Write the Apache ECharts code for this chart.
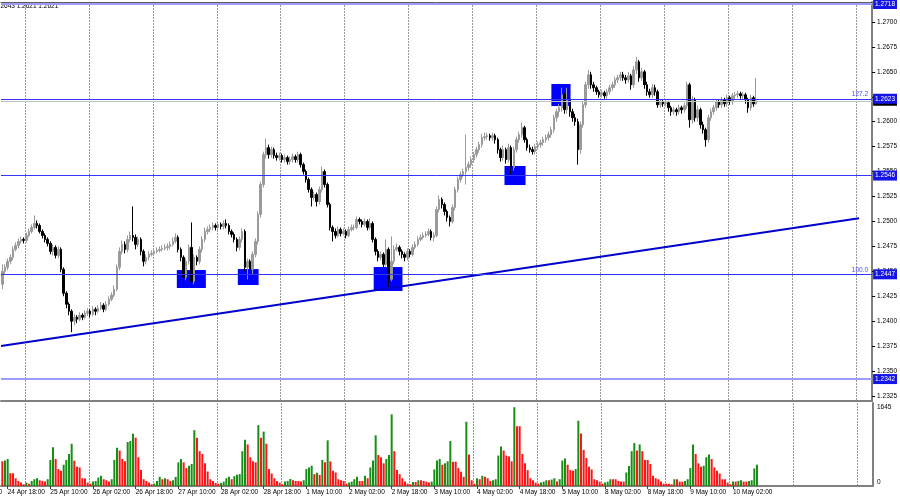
<!DOCTYPE html>
<html><head><meta charset="utf-8">
<script src="https://cdn.jsdelivr.net/npm/echarts@6/dist/echarts.min.js"></script>
<style>html,body{margin:0;padding:0;background:#fff}#c{width:900px;height:500px}</style>
</head><body><div id="c"></div>
<script>
// Hourly candles, prices stored in pips: price = 1 + v/10000
const opens = [
2437,2450,2454,2460,2464,2472,2476,2480,2482,2481,
2486,2490,2494,2498,2496,2490,2486,2482,2478,2470,
2474,2466,2472,2452,2428,2417,2410,2400,2404,2402,
2406,2404,2408,2410,2407,2412,2410,2413,2416,2412,
2417,2422,2426,2432,2454,2470,2477,2472,2482,2486,
2484,2477,2482,2470,2460,2464,2467,2468,2470,2471,
2472,2473,2474,2475,2477,2480,2484,2472,2464,2444,
2460,2474,2440,2464,2460,2472,2482,2490,2492,2494,
2496,2494,2497,2495,2498,2496,2490,2487,2482,2474,
2482,2490,2454,2460,2452,2467,2480,2507,2537,2567,
2574,2567,2572,2566,2564,2566,2562,2564,2560,2562,
2565,2562,2567,2557,2550,2542,2532,2524,2527,2520,
2532,2550,2537,2517,2494,2490,2486,2492,2488,2490,
2486,2492,2494,2494,2502,2500,2497,2500,2494,2498,
2482,2470,2464,2467,2457,2472,2442,2460,2472,2474,
2470,2467,2464,2470,2467,2474,2477,2482,2484,2486,
2487,2490,2484,2486,2512,2522,2517,2510,2504,2500,
2514,2532,2542,2547,2550,2554,2557,2562,2567,2572,
2577,2584,2585,2586,2584,2586,2582,2572,2564,2572,
2562,2574,2554,2572,2582,2587,2594,2582,2574,2572,
2570,2575,2577,2579,2582,2584,2587,2592,2604,2610,
2614,2627,2612,2622,2610,2604,2600,2572,2597,2617,
2637,2647,2637,2634,2630,2627,2629,2626,2630,2634,
2637,2642,2644,2647,2644,2642,2646,2637,2652,2660,
2644,2650,2637,2630,2627,2634,2630,2617,2620,2618,
2619,2614,2610,2612,2610,2614,2612,2616,2637,2602,
2622,2604,2612,2597,2592,2582,2604,2610,2614,2620,
2617,2622,2618,2624,2620,2626,2627,2628,2626,2627,
2622,2614,2624,2618];
const closes = [
2450,2454,2460,2464,2472,2476,2480,2482,2481,2486,
2490,2494,2498,2496,2490,2486,2482,2478,2470,2474,
2466,2472,2452,2428,2417,2410,2400,2404,2402,2406,
2404,2408,2410,2407,2412,2410,2413,2416,2412,2417,
2422,2426,2432,2454,2470,2477,2472,2482,2486,2484,
2477,2482,2470,2460,2464,2467,2468,2470,2471,2472,
2473,2474,2475,2477,2480,2484,2472,2464,2444,2460,
2474,2440,2464,2460,2472,2482,2490,2492,2494,2496,
2494,2497,2495,2498,2496,2490,2487,2482,2474,2482,
2490,2454,2460,2452,2467,2480,2507,2537,2567,2574,
2567,2572,2566,2564,2566,2562,2564,2560,2562,2565,
2562,2567,2557,2550,2542,2532,2524,2527,2520,2532,
2550,2537,2517,2494,2490,2486,2492,2488,2490,2486,
2492,2494,2494,2502,2500,2497,2500,2494,2498,2482,
2470,2464,2467,2457,2472,2442,2460,2472,2474,2470,
2467,2464,2470,2467,2474,2477,2482,2484,2486,2487,
2490,2484,2486,2512,2522,2517,2510,2504,2500,2514,
2532,2542,2547,2550,2554,2557,2562,2567,2572,2577,
2584,2585,2586,2584,2586,2582,2572,2564,2572,2562,
2574,2554,2572,2582,2587,2594,2582,2574,2572,2570,
2575,2577,2579,2582,2584,2587,2592,2604,2610,2614,
2627,2612,2622,2610,2604,2600,2572,2597,2617,2637,
2647,2637,2634,2630,2627,2629,2626,2630,2634,2637,
2642,2644,2647,2644,2642,2646,2637,2652,2660,2644,
2650,2637,2630,2627,2634,2630,2617,2620,2618,2619,
2614,2610,2612,2610,2614,2612,2616,2637,2602,2622,
2604,2612,2597,2592,2582,2604,2610,2614,2620,2617,
2622,2618,2624,2620,2626,2627,2628,2626,2627,2622,
2614,2624,2618,2621];
const highs = [
2457,2457,2463,2467,2475,2479,2483,2485,2484,2489,
2493,2497,2506,2501,2498,2492,2488,2484,2480,2477,
2476,2475,2474,2454,2430,2419,2412,2407,2406,2409,
2408,2411,2413,2412,2415,2414,2416,2419,2418,2420,
2425,2429,2436,2457,2474,2481,2480,2486,2490,2515,
2487,2485,2484,2472,2467,2470,2471,2473,2474,2475,
2476,2477,2478,2480,2484,2488,2486,2474,2466,2463,
2477,2499,2467,2466,2475,2485,2494,2495,2497,2499,
2498,2500,2499,2501,2502,2498,2492,2489,2484,2485,
2493,2492,2463,2462,2470,2483,2510,2540,2570,2583,
2577,2575,2574,2569,2569,2568,2567,2566,2565,2568,
2567,2570,2569,2559,2552,2544,2534,2530,2529,2535,
2555,2552,2539,2519,2496,2493,2495,2494,2493,2492,
2495,2497,2497,2505,2504,2502,2503,2502,2503,2500,
2484,2472,2470,2469,2482,2474,2485,2476,2478,2476,
2472,2469,2473,2472,2477,2480,2485,2487,2489,2490,
2493,2492,2489,2515,2526,2524,2519,2512,2506,2517,
2535,2545,2550,2553,2587,2560,2565,2570,2575,2580,
2588,2589,2589,2588,2589,2588,2584,2574,2576,2574,
2578,2576,2575,2585,2590,2599,2596,2584,2577,2575,
2578,2580,2582,2585,2587,2590,2595,2607,2613,2618,
2634,2629,2634,2624,2613,2608,2603,2600,2620,2640,
2652,2650,2640,2636,2632,2632,2631,2633,2637,2640,
2645,2647,2650,2650,2647,2650,2648,2656,2665,2662,
2654,2652,2640,2633,2638,2637,2632,2623,2622,2622,
2621,2616,2615,2614,2617,2616,2619,2640,2639,2626,
2624,2616,2614,2600,2594,2607,2613,2617,2623,2622,
2625,2624,2627,2626,2629,2630,2631,2630,2630,2629,
2624,2627,2626,2644];
const lows = [
2432,2447,2451,2457,2461,2470,2473,2478,2478,2479,
2484,2488,2492,2493,2488,2483,2479,2475,2467,2466,
2463,2463,2449,2425,2413,2406,2389,2396,2398,2400,
2401,2402,2405,2404,2405,2406,2408,2411,2409,2410,
2415,2420,2424,2430,2451,2467,2468,2469,2479,2480,
2472,2474,2466,2455,2457,2461,2465,2466,2468,2469,
2470,2471,2471,2472,2475,2478,2469,2460,2435,2441,
2457,2434,2437,2456,2457,2469,2479,2487,2489,2491,
2491,2491,2492,2492,2493,2487,2484,2479,2470,2471,
2479,2450,2442,2448,2447,2464,2477,2504,2534,2563,
2563,2564,2563,2561,2561,2559,2559,2557,2557,2559,
2559,2559,2554,2547,2539,2529,2515,2521,2515,2517,
2529,2534,2514,2491,2480,2483,2484,2485,2486,2483,
2484,2490,2491,2492,2497,2494,2495,2491,2492,2479,
2466,2460,2461,2453,2455,2434,2440,2457,2470,2466,
2463,2460,2461,2464,2465,2472,2475,2480,2482,2484,
2485,2481,2480,2484,2509,2513,2506,2500,2495,2498,
2511,2529,2539,2544,2537,2551,2554,2559,2564,2569,
2574,2581,2582,2581,2581,2578,2568,2560,2561,2558,
2559,2547,2551,2569,2579,2584,2579,2571,2569,2567,
2567,2572,2574,2576,2579,2581,2584,2589,2600,2605,
2610,2608,2608,2605,2600,2596,2557,2568,2594,2614,
2633,2633,2630,2627,2624,2624,2623,2623,2627,2631,
2634,2639,2641,2641,2638,2639,2632,2634,2648,2640,
2641,2633,2626,2624,2624,2626,2614,2614,2615,2615,
2610,2606,2607,2606,2607,2608,2609,2613,2594,2598,
2600,2600,2593,2588,2575,2579,2601,2607,2611,2614,
2614,2615,2615,2617,2617,2623,2624,2623,2623,2618,
2609,2611,2615,2617];
const volumes = [
489,503,536,255,255,154,100,67,34,67,
47,100,134,154,114,100,87,134,516,770,
536,335,301,422,516,636,837,502,382,368,
154,147,67,47,87,100,167,201,134,114,
87,134,516,757,703,536,489,871,891,1038,
958,570,315,134,100,67,34,47,100,181,
134,154,134,100,114,181,469,536,469,355,
402,436,1106,958,690,636,449,288,134,100,
60,47,60,87,154,181,134,194,221,235,
690,918,824,570,489,469,1206,958,1079,838,
335,248,154,100,67,34,87,100,141,114,
100,100,87,114,335,369,402,235,261,221,
516,469,905,489,302,268,134,114,100,47,
67,87,134,181,100,100,201,154,369,503,
1005,616,570,449,536,616,1420,690,315,235,
154,87,47,34,80,80,114,114,100,87,
67,87,328,503,536,422,449,489,891,
482,482,355,281,181,1273,623,114,47,154,
134,201,181,154,100,114,134,603,784,703,
603,583,489,1561,1186,1186,636,449,315,154,
114,67,47,67,87,114,114,127,154,87,
134,503,543,422,315,302,335,1293,1039,717,
556,382,328,134,114,87,47,67,87,134,
134,134,100,87,87,268,395,690,851,703,
824,690,516,516,436,201,154,134,87,47,
47,47,34,134,134,87,87,100,134,355,
824,636,449,382,402,570,623,536,369,302,
248,134,134,67,34,87,87,100,114,87,
87,100,114,348,422];
const timeLabels = ['24 Apr 18:00','25 Apr 10:00','26 Apr 02:00','26 Apr 18:00','27 Apr 10:00','28 Apr 02:00','28 Apr 18:00','1 May 10:00','2 May 02:00','2 May 18:00','3 May 10:00','4 May 02:00','4 May 18:00','5 May 10:00','8 May 02:00','8 May 18:00','9 May 10:00','10 May 02:00'];
const priceTicks = [1.2325,1.2350,1.2375,1.2400,1.2425,1.2450,1.2475,1.2500,1.2525,1.2550,1.2575,1.2600,1.2625,1.2650,1.2675,1.2700];
const levelLight = [1.2718, 1.2342];
const levelBlue = [1.2623, 1.2546, 1.2447];
const fibLevels = [['127.2', 1.2623], ['100.0', 1.2447]];
const bidPrice = 1.2621;
const volumeMax = 1645;
const trendLine = [[-0.5, 1.23751], [321.6, 1.25032]];
// zones: [fromBar, toBar, topPrice, bottomPrice]
const zones = [[65.5,76.4,1.24513,1.24333],[88.4,96.2,1.24523,1.24363],[139.4,150.2,1.24543,1.24303],[188.5,196.4,1.25556,1.25365],[206.1,213.3,1.26378,1.26157]];

const N = 327;
const cats = Array.from({length: N}, (_, i) => String(i));
const P = v => 1 + v / 10000;
const candleData = closes.map((c, i) => [P(opens[i]), P(c), P(lows[i]), P(highs[i])]);
const volData = volumes.map((v, i) => ({
  value: v,
  itemStyle: {color: (i > 0 && v > volumes[i - 1]) ? '#159015' : '#ff1515'}
}));
const FONT = 'Liberation Sans';
const gridLineFn = i => i >= 9 && (i - 9) % 24 === 0;
const labelFn = i => i >= 2 && i <= 274 && (i - 2) % 16 === 0;
const dotted = {show: true, interval: gridLineFn, lineStyle: {color: '#9a9a9a', width: 1, type: [2, 1]}};

function boxLabel(text, bg) {
  return {show: true, position: 'end', distance: 1, formatter: text, color: '#fff',
    backgroundColor: bg, padding: [2, 2, 1, 2], fontSize: 6.5, fontFamily: FONT};
}
function levelSeries(value, color, width, label, z) {
  return {type: 'line', xAxisIndex: 1, yAxisIndex: 0, data: [], z: z, silent: true,
    markLine: {silent: true, symbol: 'none', animation: false, precision: 5,
      lineStyle: {color: color, width: width, type: 'solid', opacity: 1},
      label: label, data: [{yAxis: value}]}};
}
const levelSeriesList = [];
levelSeriesList.push(levelSeries(bidPrice, '#c0c0c0', 1, boxLabel(bidPrice.toFixed(4), '#000'), 5));
levelLight.forEach(v => levelSeriesList.push(levelSeries(v, '#9c9cff', 2, boxLabel(v.toFixed(4), '#1414e6'), 6)));
levelBlue.forEach(v => levelSeriesList.push(levelSeries(v, '#3434ff', 1, boxLabel(v.toFixed(4), '#1414e6'), 6)));
fibLevels.forEach(([t, v]) => levelSeriesList.push(levelSeries(v, 'rgba(0,0,0,0)', 1,
  {show: true, position: 'insideEndTop', distance: 1, formatter: t, color: '#4848ff', fontSize: 6.5, fontFamily: FONT, padding: [0, 3, 0, 0]}, 6)));

const chart = echarts.init(document.getElementById('c'), null, {renderer: 'canvas'});
chart.setOption({
  animation: false,
  backgroundColor: '#fff',
  grid: [
    {left: 1, right: 27, top: 2, height: 399},
    {left: 1, right: 27, top: 403, height: 83}
  ],
  xAxis: [
    {type: 'category', gridIndex: 0, data: cats, boundaryGap: true,
     axisLine: {show: true, lineStyle: {color: '#808080', width: 2}},
     axisTick: {show: false}, axisLabel: {show: false}, splitLine: dotted},
    {type: 'value', gridIndex: 0, min: -0.5, max: N - 0.5, position: 'top',
     axisLine: {show: true, onZero: false, lineStyle: {color: '#606060', width: 1}},
     axisTick: {show: false}, axisLabel: {show: false}, splitLine: {show: false}},
    {type: 'category', gridIndex: 1, data: cats, boundaryGap: true,
     axisLine: {show: true, lineStyle: {color: '#808080', width: 2}},
     axisTick: {show: true, alignWithLabel: true, interval: labelFn, length: 3, lineStyle: {color: '#404040'}},
     axisLabel: {show: true, interval: labelFn, align: 'left', margin: 3, fontSize: 6.5, fontFamily: FONT, color: '#000',
       formatter: (v) => { const i = Number(v); return labelFn(i) ? timeLabels[(i - 2) / 16] : ''; }},
     splitLine: dotted}
  ],
  yAxis: [
    {type: 'value', gridIndex: 0, position: 'right', min: 1.2320, max: 1.2720, scale: true,
     axisLine: {show: true, onZero: false, lineStyle: {color: '#808080', width: 2}},
     axisTick: {show: true, length: 3, customValues: priceTicks, lineStyle: {color: '#000'}},
     axisLabel: {show: true, customValues: priceTicks, margin: 5, fontSize: 6.5, fontFamily: FONT, color: '#000',
       formatter: v => v.toFixed(4)},
     splitLine: {show: false}},
    {type: 'value', gridIndex: 1, position: 'right', min: 0, max: volumeMax,
     axisLine: {show: true, onZero: false, lineStyle: {color: '#808080', width: 2}},
     axisTick: {show: false},
     axisLabel: {show: true, customValues: [0, volumeMax], margin: 4, fontSize: 6.5, fontFamily: FONT, color: '#000',
       formatter: v => v === 0 ? '{b|0}' : '{t|' + v + '}',
       rich: {t: {fontSize: 6.5, fontFamily: FONT, padding: [9, 0, 0, 0]}, b: {fontSize: 6.5, fontFamily: FONT, padding: [0, 0, 7, 0]}}},
     splitLine: {show: false}}
  ],
  series: [
    {type: 'line', xAxisIndex: 1, yAxisIndex: 0, data: [], z: 1, silent: true,
     markArea: {silent: true, itemStyle: {color: '#0000ff', opacity: 1},
       data: zones.map(z => [{coord: [z[0], z[2]]}, {coord: [z[1], z[3]]}])}},
    {type: 'candlestick', xAxisIndex: 0, yAxisIndex: 0, data: candleData, z: 3,
     barWidth: 2, silent: true,
     itemStyle: {color: '#9a9a9a', color0: '#000000', borderColor: '#9a9a9a', borderColor0: '#000000', borderWidth: 1}},
    {type: 'line', xAxisIndex: 1, yAxisIndex: 0, data: trendLine, z: 4, silent: true,
     symbol: 'none', lineStyle: {color: '#0000cc', width: 2}},
    ...levelSeriesList,
    {type: 'bar', xAxisIndex: 2, yAxisIndex: 1, data: volData, barWidth: 2, silent: true}
  ],
  graphic: [
    {type: 'text', x: -5, y: 3, style: {text: '1.2643 1.2621 1.2621', fontSize: 6.5, fontFamily: FONT, fill: '#000'}},
    {type: 'text', x: -35, y: 489, style: {text: '24 Apr 02:00', fontSize: 6.5, fontFamily: FONT, fill: '#000'}}
  ]
});
</script></body></html>
